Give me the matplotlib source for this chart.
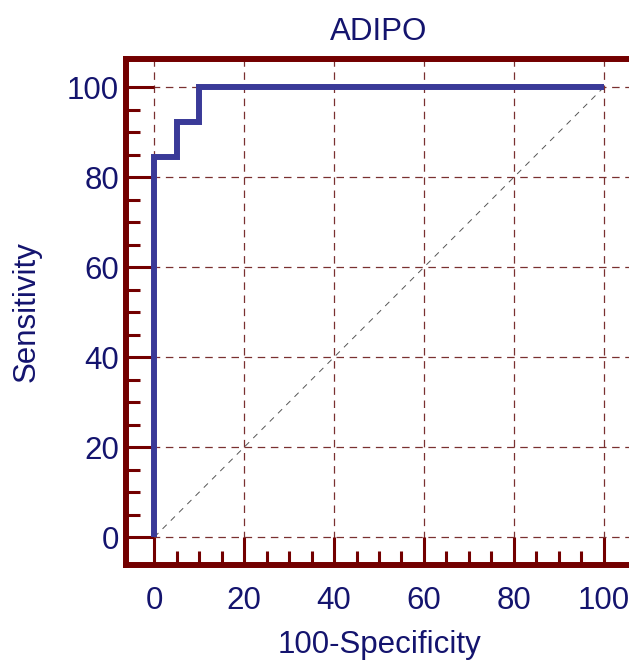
import matplotlib
matplotlib.use("Agg")
import matplotlib.pyplot as plt
from matplotlib.ticker import FixedLocator

plt.rcParams['font.family'] = ['Liberation Sans', 'DejaVu Sans']

# ROC curve data (100-Specificity, Sensitivity)
fpr = [0, 0, 5, 5, 10, 10, 100]
sens = [0, 84.6, 84.6, 92.3, 92.3, 100, 100]
ref_x = [0, 100]
ref_y = [0, 100]
title = "ADIPO"
xlabel = "100-Specificity"
ylabel = "Sensitivity"
major_ticks = [0, 20, 40, 60, 80, 100]
minor_ticks = [v for v in range(5, 100, 5) if v % 20 != 0]

spine_col = '#730000'
text_col = '#14146e'
curve_col = '#3a3a98'
grid_col = '#7a3030'

fig = plt.figure(figsize=(6.29, 6.63), dpi=100)
W, H = 629, 663
ax = fig.add_axes([126 / W, 98 / H, 506 / W, 506 / H])
ax.set_xlim(-6.3, 106.3)
ax.set_ylim(-6.2, 106.3)

for s in ax.spines.values():
    s.set_color(spine_col)
    s.set_linewidth(4.3)

ax.set_xticks(major_ticks)
ax.set_yticks(major_ticks)
ax.xaxis.set_minor_locator(FixedLocator(minor_ticks))
ax.yaxis.set_minor_locator(FixedLocator(minor_ticks))
ax.tick_params(which='major', direction='in', length=20, width=2.2, color=spine_col,
               labelsize=22.5, labelcolor=text_col, top=False, right=False)
ax.tick_params(which='minor', direction='in', length=10, width=2.2, color=spine_col,
               top=False, right=False)
ax.tick_params(axis='x', which='major', pad=15)
ax.tick_params(axis='y', which='major', pad=5)

ax.grid(True, which='major', linestyle=(0, (6, 4.5)), linewidth=0.9, color=grid_col)
ax.set_axisbelow(True)

ax.plot(ref_x, ref_y, linestyle=(0, (6, 6)), color='#555555', linewidth=0.7, zorder=2)
ax.plot(fpr, sens, color=curve_col, linewidth=4.3, solid_capstyle='butt',
        solid_joinstyle='miter', zorder=3, clip_on=False)

ax.set_title(title, fontsize=22.5, color=text_col, pad=14)
ax.set_xlabel(xlabel, fontsize=22.5, color=text_col, labelpad=10)
ax.set_ylabel(ylabel, fontsize=22.5, color=text_col, labelpad=18)

fig.savefig('out.png', dpi=100)
